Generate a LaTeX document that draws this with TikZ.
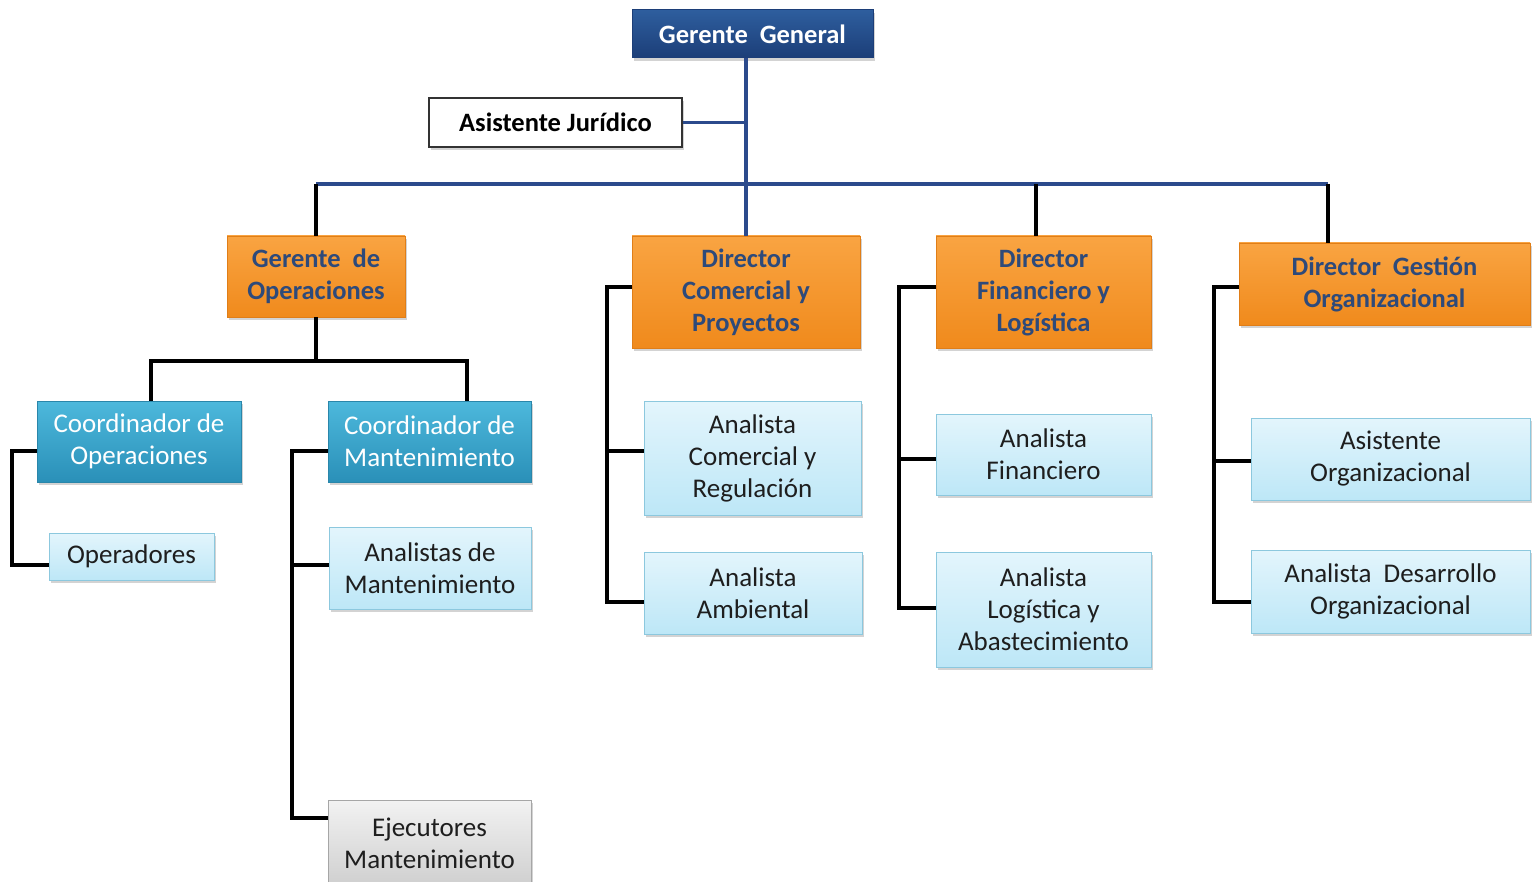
\documentclass[tikz,border=0pt]{standalone}
\usepackage{fontspec}
\setmainfont{Carlito}
\usetikzlibrary{shadows}
\definecolor{busblue}{HTML}{2B4A8C}
\definecolor{ggtop}{HTML}{2E5E9E}
\definecolor{ggbot}{HTML}{1C3E78}
\definecolor{ortop}{HTML}{F9A442}
\definecolor{orbot}{HTML}{F08A1C}
\definecolor{ordraw}{HTML}{E07E18}
\definecolor{ortext}{HTML}{2E4A7A}
\definecolor{tltop}{HTML}{4DB8DC}
\definecolor{tlbot}{HTML}{2A90B8}
\definecolor{tldraw}{HTML}{2A86AA}
\definecolor{lctop}{HTML}{E3F5FC}
\definecolor{lcbot}{HTML}{BDE7F7}
\definecolor{lcdraw}{HTML}{8CC8DE}
\definecolor{lctext}{HTML}{1E1E1E}
\definecolor{grtop}{HTML}{F2F2F2}
\definecolor{grbot}{HTML}{CFCFCF}
\tikzset{
  base/.style={rectangle, inner sep=2pt, align=center, font=\fontsize{27}{32}\selectfont,
    drop shadow={opacity=0.35, shadow xshift=2pt, shadow yshift=-3pt}},
  ggbox/.style={base, top color=ggtop, bottom color=ggbot, draw=ggbot, line width=1pt,
    text=white, font=\fontsize{26.5}{30}\selectfont\bfseries},
  ajbox/.style={base, fill=white, draw=black!80, line width=1.2pt, text=black,
    font=\fontsize{26.5}{30}\selectfont\bfseries},
  orbox/.style={base, top color=ortop, bottom color=orbot, draw=ordraw, line width=0.8pt,
    text=ortext, font=\fontsize{26.5}{32}\selectfont\bfseries},
  tlbox/.style={base, top color=tltop, bottom color=tlbot, draw=tldraw, line width=0.8pt, text=white},
  lcbox/.style={base, top color=lctop, bottom color=lcbot, draw=lcdraw, line width=0.8pt, text=lctext},
  grbox/.style={base, top color=grtop, bottom color=grbot, draw=grbot!80!black, line width=0.6pt, text=lctext},
  blueline/.style={draw=busblue, line width=3.5pt},
  blackline/.style={draw=black, line width=3.5pt},
}
\begin{document}
\begin{tikzpicture}[x=1pt, y=-1pt]
\useasboundingbox (0,0) rectangle (1538,882);
% nodes
\node[ggbox, minimum width=241, minimum height=48] (gg) at (752.5,34) {Gerente\ \ General};
\node[ajbox, minimum width=253, minimum height=49] (aj) at (555.5,122.5) {Asistente Jurídico};
\node[orbox, minimum width=178, minimum height=81] (go) at (316,276.5) {Gerente\ \ de\\Operaciones};
\node[orbox, minimum width=228, minimum height=112] (dc) at (746,292) {Director\\Comercial y\\Proyectos};
\node[orbox, minimum width=215, minimum height=112] (df) at (1043.5,292) {Director\\Financiero y\\Logística};
\node[orbox, minimum width=291, minimum height=82] (dg) at (1384.5,284) {Director\ \ Gestión\\Organizacional};
\node[tlbox, minimum width=204, minimum height=81] (co) at (139,441.5) {Coordinador de\\Operaciones};
\node[tlbox, minimum width=203, minimum height=81] (cm) at (429.5,441.5) {Coordinador de\\Mantenimiento};
\node[lcbox, minimum width=165, minimum height=47] (op) at (131.5,556.5) {Operadores};
\node[lcbox, minimum width=202, minimum height=82] (am) at (430,568) {Analistas de\\Mantenimiento};
\node[grbox, minimum width=203, minimum height=86] (ej) at (429.5,843) {Ejecutores\\Mantenimiento};
\node[lcbox, minimum width=217, minimum height=114] (acr) at (752.5,458) {Analista\\Comercial y\\Regulación};
\node[lcbox, minimum width=218, minimum height=82] (aa) at (753,593) {Analista\\Ambiental};
\node[lcbox, minimum width=215, minimum height=81] (afin) at (1043.5,454.5) {Analista\\Financiero};
\node[lcbox, minimum width=215, minimum height=115] (alog) at (1043.5,609.5) {Analista\\Logística y\\Abastecimiento};
\node[lcbox, minimum width=279, minimum height=82] (ao) at (1390.5,459) {Asistente\\Organizacional};
\node[lcbox, minimum width=279, minimum height=83] (ado) at (1390.5,591.5) {Analista\ \ Desarrollo\\Organizacional};
% coordinates
\coordinate (busL) at (316,184);
\coordinate (busM) at (1036,184);
\coordinate (busR) at (1328,184);
\coordinate (goj) at (316,361);
\coordinate (cojL) at (151,361);
\coordinate (cojR) at (467,361);
\coordinate (coL) at (12,451);
\coordinate (coB) at (12,565);
\coordinate (cmL) at (292,451);
\coordinate (cmB1) at (292,565);
\coordinate (cmB2) at (292,818);
\coordinate (dcL) at (607,287);
\coordinate (dcB1) at (607,451);
\coordinate (dcB2) at (607,602);
\coordinate (dfL) at (899,287);
\coordinate (dfB1) at (899,459);
\coordinate (dfB2) at (899,608);
\coordinate (dgL) at (1214,287);
\coordinate (dgB1) at (1214,461);
\coordinate (dgB2) at (1214,602);
% blue lines
\draw[blueline] (dc.north |- gg.south) -- (dc.north);
\draw[blueline] (aj.east) -- (aj.east -| dc.north);
\draw[blueline] (busL) -- (busR);
% black drops
\draw[blackline] (busL) -- (go.north);
\draw[blackline] (busM) -- (busM |- df.north);
\draw[blackline] (busR) -- (busR |- dg.north);
% gerente de operaciones
\draw[blackline] (go.south) -- (goj);
\draw[blackline] (cojL |- co.north) -- (cojL) -- (cojR) -- (cojR |- cm.north);
% coordinador de operaciones
\draw[blackline] (co.west |- coL) -- (coL) -- (coB) -- (coB -| op.west);
% coordinador de mantenimiento
\draw[blackline] (cm.west |- cmL) -- (cmL) -- (cmB2) -- (cmB2 -| ej.west);
\draw[blackline] (cmB1) -- (cmB1 -| am.west);
% director comercial
\draw[blackline] (dc.west |- dcL) -- (dcL) -- (dcB2) -- (dcB2 -| aa.west);
\draw[blackline] (dcB1) -- (dcB1 -| acr.west);
% director financiero
\draw[blackline] (df.west |- dfL) -- (dfL) -- (dfB2) -- (dfB2 -| alog.west);
\draw[blackline] (dfB1) -- (dfB1 -| afin.west);
% director gestion
\draw[blackline] (dg.west |- dgL) -- (dgL) -- (dgB2) -- (dgB2 -| ado.west);
\draw[blackline] (dgB1) -- (dgB1 -| ao.west);
\end{tikzpicture}
\end{document}
